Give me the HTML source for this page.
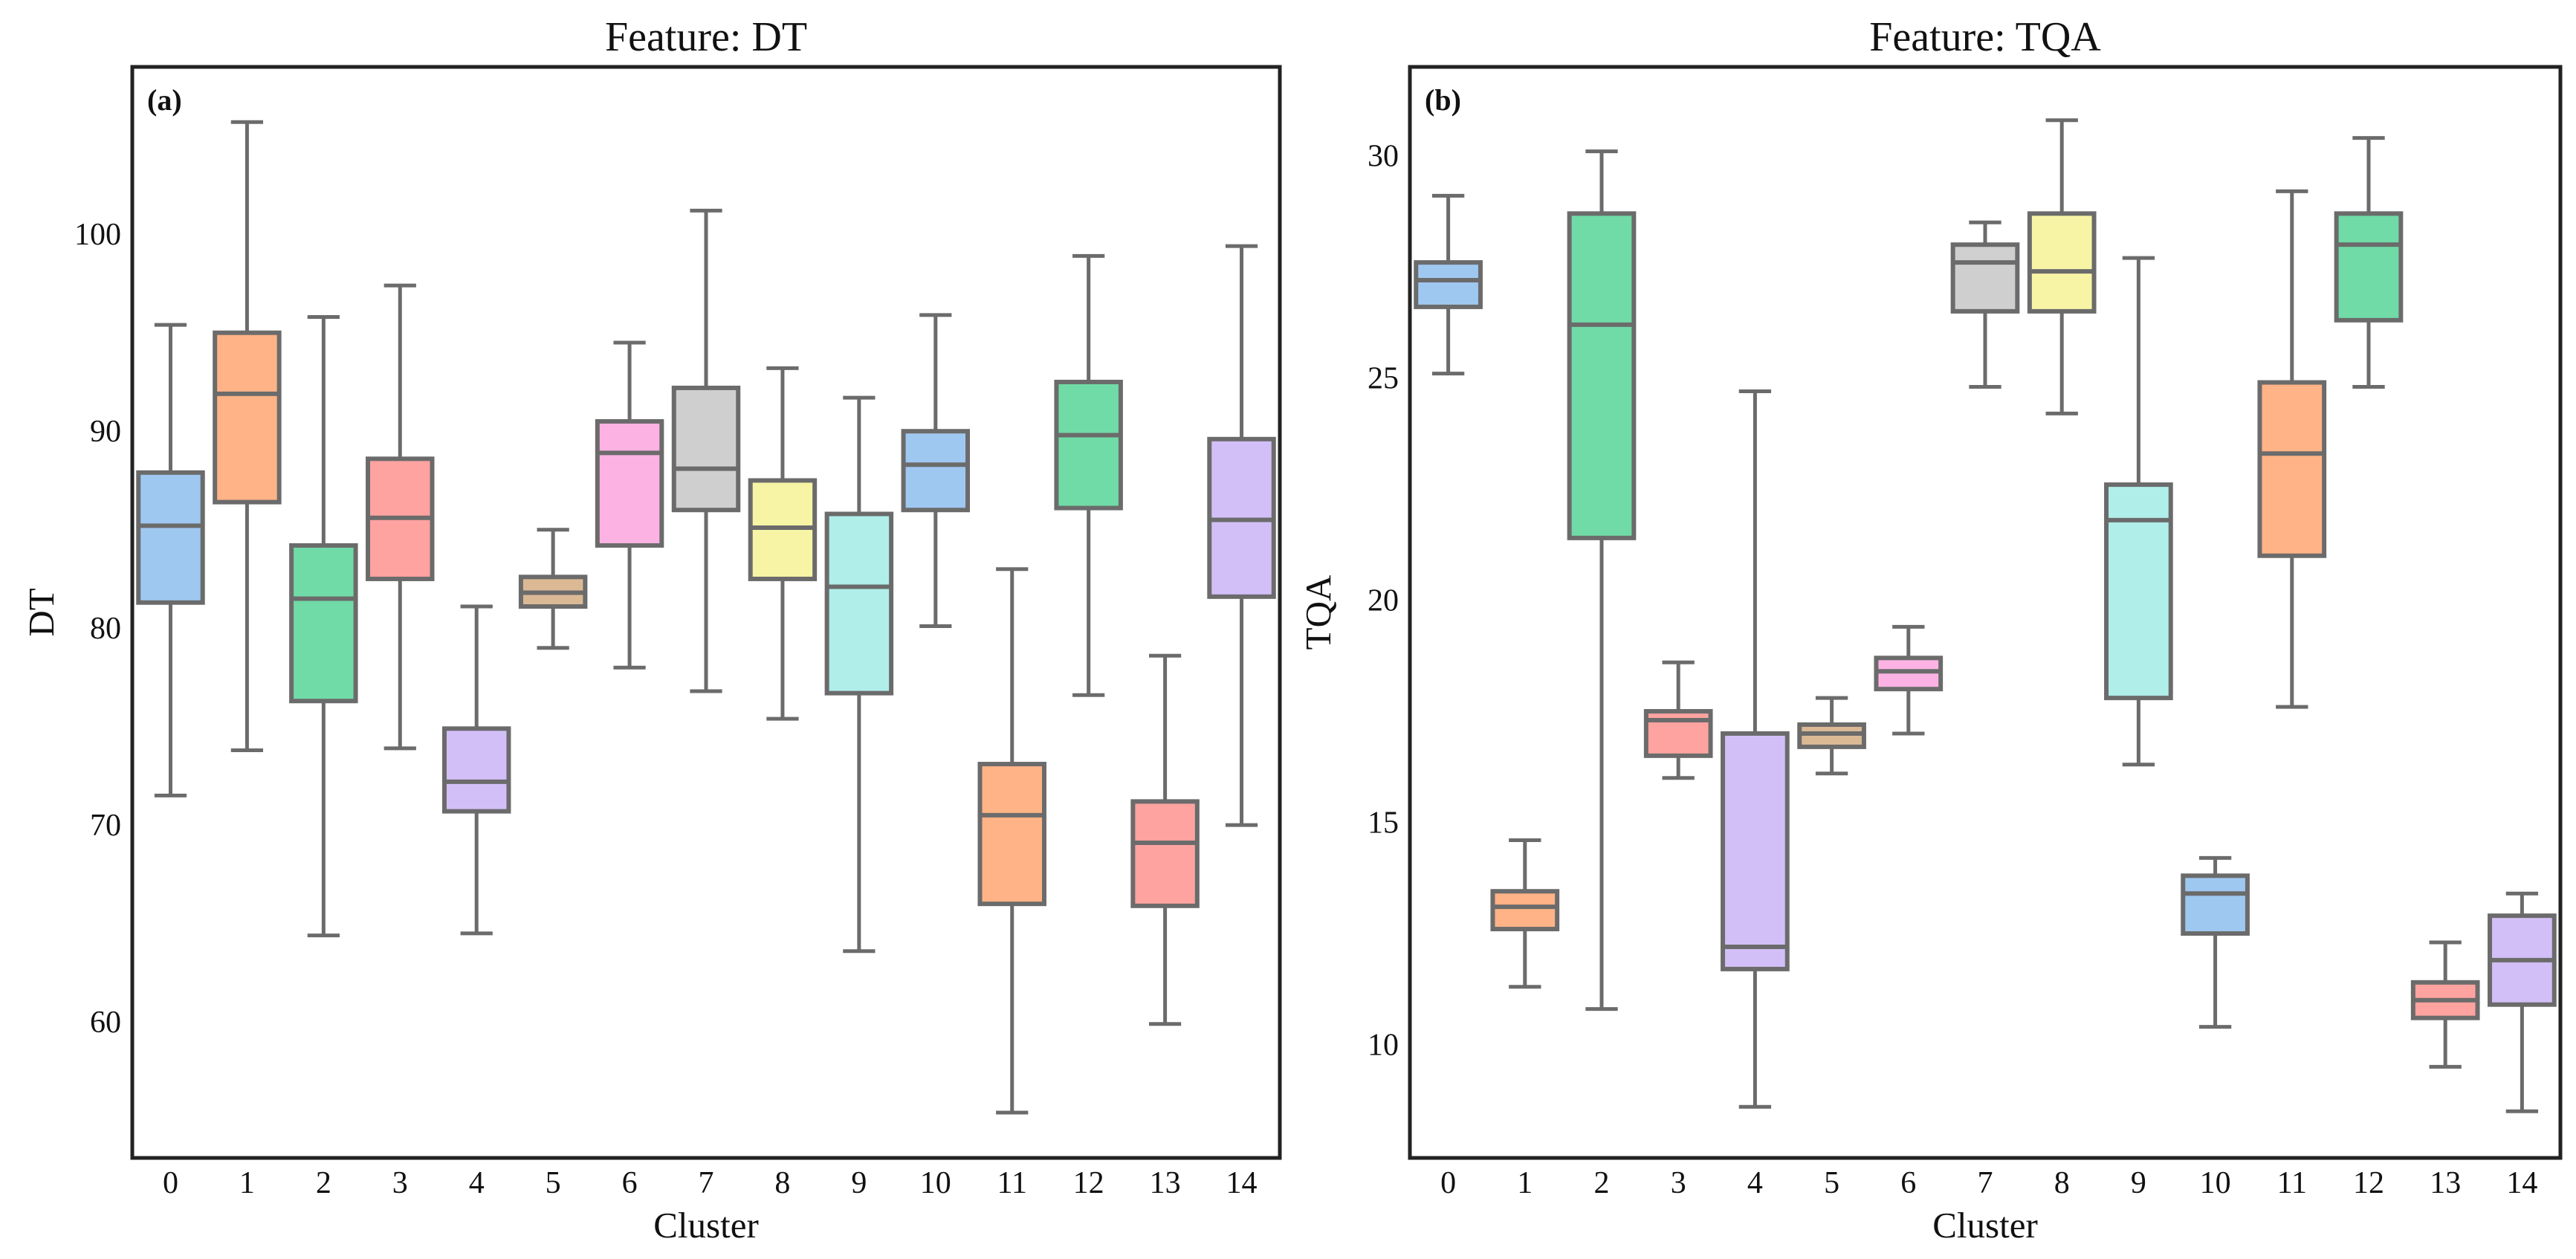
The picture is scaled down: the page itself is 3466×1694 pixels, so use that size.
<!DOCTYPE html>
<html><head><meta charset="utf-8"><style>
html,body{margin:0;padding:0;background:#fff}
svg{display:block;font-family:"Liberation Serif",serif}
</style></head><body>
<svg id="chart" width="3466" height="1694" viewBox="0 0 3466 1694" xmlns="http://www.w3.org/2000/svg"></svg>
<script>
const categories = ["0","1","2","3","4","5","6","7","8","9","10","11","12","13","14"];
// [lower whisker, Q1, median, Q3, upper whisker]
const dtStats = [
 [71.5,81.3,85.2,87.9,95.4],[73.8,86.4,91.9,95.0,105.7],[64.4,76.3,81.5,84.2,95.8],
 [73.9,82.5,85.6,88.6,97.4],[64.5,70.7,72.2,74.9,81.1],[79.0,81.1,81.8,82.6,85.0],
 [78.0,84.2,88.9,90.5,94.5],[76.8,86.0,88.1,92.2,101.2],[75.4,82.5,85.1,87.5,93.2],
 [63.6,76.7,82.1,85.8,91.7],[80.1,86.0,88.3,90.0,95.9],[55.4,66.0,70.5,73.1,83.0],
 [76.6,86.1,89.8,92.5,98.9],[59.9,65.9,69.1,71.2,78.6],[70.0,81.6,85.5,89.6,99.4]];
const tqaStats = [
 [25.1,26.6,27.2,27.6,29.1],[11.3,12.6,13.1,13.45,14.6],[10.8,21.4,26.2,28.7,30.1],
 [16.0,16.5,17.3,17.5,18.6],[8.6,11.7,12.2,17.0,24.7],[16.1,16.7,17.0,17.2,17.8],
 [17.0,18.0,18.4,18.7,19.4],[24.8,26.5,27.6,28.0,28.5],[24.2,26.5,27.4,28.7,30.8],
 [16.3,17.8,21.8,22.6,27.7],[10.4,12.5,13.4,13.8,14.2],[17.6,21.0,23.3,24.9,29.2],
 [24.8,26.3,28.0,28.7,30.4],[9.5,10.6,11.0,11.4,12.3],[8.5,10.9,11.9,12.9,13.4]];
const dtTicks = [60,70,80,90,100];
const tqaTicks = [10,15,20,25,30];
const palette = ["#9fc8f0","#ffb386","#70dba6","#ffa3a0","#d3bff8","#dcb995","#fcb3e3","#cfcfcf","#f8f4a6","#b0eeea"];

const svg = document.getElementById('chart');
const NS = "http://www.w3.org/2000/svg";
function mk(tag, attrs, parent){const e=document.createElementNS(NS,tag);for(const k in attrs)e.setAttribute(k,attrs[k]);(parent||svg).appendChild(e);return e;}

function panel(cfg){
  const g = mk('g',{});
  
  
  const L=cfg.x0, R=cfg.x1, T=90, B=1558;
  const y = v => T + (cfg.vmax - v)/(cfg.vmax-cfg.vmin)*(B-T);
  const step=(R-L)/categories.length;
  const x = i => L + step*(i+0.5);
  const bw = step*0.84;
  cfg.stats.forEach((s,i)=>{
    const bg = mk('g',{},g);
    
    
    const cx=x(i), ed="#6b6b6b";
    const w1=mk('line',{x1:cx,x2:cx,y1:y(s[0]),y2:y(s[1]),stroke:ed,'stroke-width':5},bg);
    
    
    const w2=mk('line',{x1:cx,x2:cx,y1:y(s[3]),y2:y(s[4]),stroke:ed,'stroke-width':5},bg);
    
    
    [s[0],s[4]].forEach(v=>{
      const c=mk('line',{x1:cx-bw/4,x2:cx+bw/4,y1:y(v),y2:y(v),stroke:ed,'stroke-width':5},bg);
      
      
    });
    const r=mk('rect',{x:cx-bw/2,y:y(s[3]),width:bw,height:y(s[1])-y(s[3]),fill:palette[i%10],stroke:ed,'stroke-width':6},bg);
    
    
    const m=mk('line',{x1:cx-bw/2,x2:cx+bw/2,y1:y(s[2]),y2:y(s[2]),stroke:ed,'stroke-width':6},bg);
    
    
    const t=mk('text',{x:cx,y:1605,'font-size':42,'text-anchor':'middle',fill:'#111'},g);
    t.textContent=categories[i];
    
    
  });
  cfg.ticks.forEach(v=>{
    const t=mk('text',{x:L-15,y:y(v)+14,'font-size':42,'text-anchor':'end',fill:'#111'},g);
    t.textContent=v;
    
    
  });
  const fr=mk('rect',{x:L,y:T,width:R-L,height:B-T,fill:'none',stroke:'#222','stroke-width':5},g);
  
  
  const ti=mk('text',{x:(L+R)/2,y:68,'font-size':56,'text-anchor':'middle',fill:'#111'},g);
  ti.textContent=cfg.title;
  
  
  const xl=mk('text',{x:(L+R)/2,y:1665,'font-size':49,'text-anchor':'middle',fill:'#111'},g);
  xl.textContent='Cluster';
  
  
  const yl=mk('text',{x:0,y:0,'font-size':49,'text-anchor':'middle',fill:'#111',transform:`translate(${cfg.ylx},${(T+B)/2}) rotate(-90)`},g);
  yl.textContent=cfg.ylabel;
  
  
  const pl=mk('text',{x:L+20,y:148,'font-size':40,'font-weight':'bold',fill:'#111'},g);
  pl.textContent=cfg.letter;
  
  
}
panel({name:'dt-panel',x0:178,x1:1722,vmin:53.1,vmax:108.5,stats:dtStats,ticks:dtTicks,title:'Feature: DT',ylabel:'DT',ylx:72,letter:'(a)'});
panel({name:'tqa-panel',x0:1897,x1:3445,vmin:7.45,vmax:32.0,stats:tqaStats,ticks:tqaTicks,title:'Feature: TQA',ylabel:'TQA',ylx:1790,letter:'(b)'});
</script>
</body></html>
